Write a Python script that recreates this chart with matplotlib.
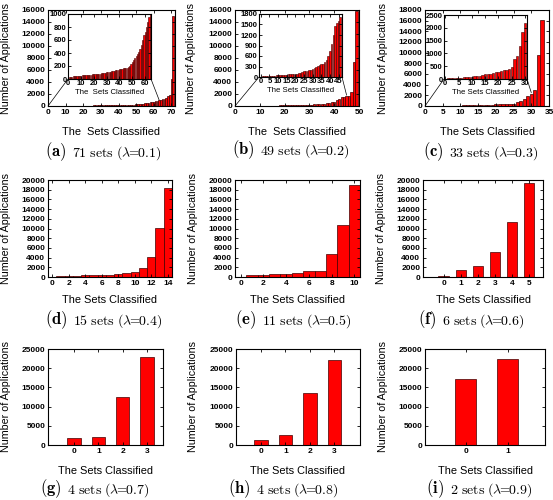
import matplotlib
matplotlib.use('agg')
import matplotlib.pyplot as plt
import numpy as np
from matplotlib.patches import ConnectionPatch
from matplotlib.transforms import blended_transform_factory

# applications per classified set
apps_a = [30, 35, 38, 40, 42, 44, 46, 48, 50, 52,
          54, 56, 58, 60, 62, 64, 66, 68, 70, 72,
          74, 76, 78, 80, 83, 86, 90, 94, 98, 102,
          106, 110, 115, 120, 125, 130, 135, 140, 145, 150,
          155, 160, 165, 170, 172, 175, 180, 200, 230, 260,
          290, 320, 350, 380, 420, 460, 520, 600, 680, 720,
          800, 870, 950, 1050, 1150, 1250, 1400, 1600, 1800, 4500, 15000]
apps_b = [25, 28, 30, 32, 35, 38, 40, 42, 45, 48,
          50, 55, 60, 65, 70, 75, 80, 85, 90, 95,
          100, 110, 120, 150, 160, 170, 180, 200, 210, 230,
          250, 280, 320, 350, 370, 380, 420, 500, 600, 750,
          950, 1200, 1450, 1550, 1600, 1700, 2300, 7300, 15800]
apps_c = [30, 35, 40, 45, 50, 55, 60, 70, 80, 90,
          100, 110, 130, 150, 180, 200, 210, 230, 260, 290,
          320, 340, 360, 400, 450, 800, 900, 1300, 1850, 2200,
          3000, 9500, 16200]
apps_d = [50, 150, 200, 300, 350, 400, 450, 500, 650, 900, 1000, 1800, 4100, 10100, 18400]
apps_e = [100, 400, 500, 600, 700, 800, 1200, 1300, 4800, 10700, 18900]
apps_f = [300, 1400, 2200, 5200, 11300, 19300]
apps_g = [1900, 2200, 12500, 23000]
apps_h = [1400, 2700, 13500, 22100]
apps_i = [17300, 22400]

# zoomed region of the three insets: (last set, max applications)
zoom_a = (63, 1000)
zoom_b = (45, 1800)
zoom_c = (30, 2500)

XLAB_WIDE = 'The  Sets Classified'
XLAB = 'The Sets Classified'

captions = [('(a)', '71 sets', '0.1'), ('(b)', '49 sets', '0.2'), ('(c)', '33 sets', '0.3'),
            ('(d)', '15 sets', '0.4'), ('(e)', '11 sets', '0.5'), ('(f)', '6 sets', '0.6'),
            ('(g)', '4 sets', '0.7'), ('(h)', '4 sets', '0.8'), ('(i)', '2 sets', '0.9')]

plt.rcParams['font.family'] = ['Liberation Sans', 'DejaVu Sans']
plt.rcParams['mathtext.fontset'] = 'cm'

W, H = 553, 500
fig = plt.figure(figsize=(W / 100, H / 100), dpi=100)
RED = '#ff0000'
EDGE = '#400000'


def add_box(l, r, t, b):
    return fig.add_axes([l / W, 1 - b / H, (r - l) / W, (b - t) / H])


def style(ax, size=6):
    ax.tick_params(direction='in', top=True, right=True, length=2.5, width=0.6,
                   labelsize=size, pad=2)
    for lab in ax.get_xticklabels() + ax.get_yticklabels():
        lab.set_fontweight('bold')
    for s in ax.spines.values():
        s.set_linewidth(0.8)


def draw(ax, x, y, w, lw=0.5):
    ax.bar(x, y, width=w, color=RED, edgecolor=EDGE, linewidth=lw)


def labels(ax, ylab_x, xlab_y, xlab=XLAB):
    ax.set_ylabel('Number of Applications', fontsize=7.7)
    ax.set_xlabel(xlab, fontsize=7.9)
    ax.yaxis.set_label_coords(ylab_x / W, 0.5,
                              transform=blended_transform_factory(fig.transFigure, ax.transAxes))
    ax.xaxis.set_label_coords(0.5, 1 - xlab_y / H,
                              transform=blended_transform_factory(ax.transAxes, fig.transFigure))
    ax.xaxis.label.set_va('center')
    ax.yaxis.label.set_va('center')


def inset(ax, box, apps, zoom, xlim, yticks, xticks, xlab):
    ins = add_box(*box)
    n = zoom[0] + 1
    draw(ins, np.arange(1, n + 1), apps[:n], 0.9, lw=0.4)
    ins.set_xlim(*xlim)
    ins.set_ylim(0, zoom[1])
    ins.set_yticks(yticks)
    ins.set_xticks(xticks)
    style(ins, 5.5)
    ins.tick_params(pad=1)
    ins.set_xlabel(xlab, fontsize=5.6, labelpad=1)
    for xyA, xyB in [((0, 0), (0, 0)), ((1, 0), zoom)]:
        con = ConnectionPatch(xyA=xyA, coordsA=ins.transAxes, xyB=xyB, coordsB=ax.transData,
                              color='black', lw=0.5)
        fig.add_artist(con)


def caption(i, x, y):
    tag, sets, lam = captions[i]
    t = fig.text(x / W, 1 - y / H, r'$\mathbf{' + tag + '}$', fontsize=12, va='center', ha='left')
    fig.axes[0].annotate(r'$\mathrm{' + sets.replace(' ', r'\ ') + r'\ (\lambda\!\!=\!\!' + lam + ')}$',
                         xy=(1, 0.45), xycoords=t, xytext=(4, 0), textcoords='offset points',
                         fontsize=10, va='center', ha='left', annotation_clip=False)


# ---- row 1 ----
ax = add_box(48, 175, 10, 106)
draw(ax, np.arange(1, len(apps_a) + 1), apps_a, 0.9)
ax.set_xlim(0, 72)
ax.set_ylim(0, 16000)
ax.set_xticks(range(0, 71, 10))
ax.set_yticks(range(0, 16001, 2000))
style(ax)
labels(ax, 6, 132, XLAB_WIDE)
inset(ax, (68, 151, 14, 79), apps_a, zoom_a, (0, 64.5), range(0, 1001, 200), range(0, 61, 10),
      XLAB_WIDE)

ax = add_box(235, 359, 10, 106)
draw(ax, np.arange(1, len(apps_b) + 1), apps_b, 0.9)
ax.set_xlim(0, 50)
ax.set_ylim(0, 16000)
ax.set_xticks(range(0, 51, 10))
ax.set_yticks(range(0, 16001, 2000))
style(ax)
labels(ax, 191, 132, XLAB_WIDE)
inset(ax, (259, 342, 14, 77), apps_b, zoom_b, (-1, 47), range(0, 1801, 300), range(0, 46, 5), XLAB)

ax = add_box(425, 549, 10, 106)
draw(ax, np.arange(1, len(apps_c) + 1), apps_c, 0.9)
ax.set_xlim(0, 35)
ax.set_ylim(0, 18000)
ax.set_xticks(range(0, 36, 5))
ax.set_yticks(range(0, 18001, 2000))
style(ax)
labels(ax, 383, 132)
inset(ax, (444, 527, 15, 79), apps_c, zoom_c, (-0.4, 30.7), range(0, 2501, 500), range(0, 31, 5),
      XLAB)

# ---- row 2 ----
ax = add_box(48, 172, 180, 277)
draw(ax, np.arange(len(apps_d)), apps_d, 1.0)
ax.set_xlim(-0.5, 14.5)
ax.set_ylim(0, 20000)
ax.set_xticks(range(0, 15, 2))
ax.set_yticks(range(0, 20001, 2000))
style(ax)
labels(ax, 6, 300)

ax = add_box(235, 360, 180, 277)
draw(ax, np.arange(len(apps_e)), apps_e, 1.0)
ax.set_xlim(-0.5, 10.5)
ax.set_ylim(0, 20000)
ax.set_xticks(range(0, 11, 2))
ax.set_yticks(range(0, 20001, 2000))
style(ax)
labels(ax, 193, 300)

ax = add_box(423, 543, 180, 277)
draw(ax, np.arange(len(apps_f)), apps_f, 0.6)
ax.set_xlim(-1.2, 5.8)
ax.set_ylim(0, 20000)
ax.set_xticks(range(6))
ax.set_yticks(range(0, 20001, 2000))
style(ax)
labels(ax, 381, 300)

# ---- row 3 ----
ax = add_box(48, 163, 349, 445)
draw(ax, np.arange(len(apps_g)), apps_g, 0.55)
ax.set_xlim(-1.07, 3.66)
ax.set_ylim(0, 25000)
ax.set_xticks(range(4))
ax.set_yticks(range(0, 25001, 5000))
style(ax)
labels(ax, 6, 471)

ax = add_box(236, 360, 349, 445)
draw(ax, np.arange(len(apps_h)), apps_h, 0.55)
ax.set_xlim(-1.02, 4.05)
ax.set_ylim(0, 25000)
ax.set_xticks(range(4))
ax.set_yticks(range(0, 25001, 5000))
style(ax)
labels(ax, 193, 471)

ax = add_box(425, 545, 349, 445)
draw(ax, np.arange(len(apps_i)), apps_i, 0.5)
ax.set_xlim(-0.98, 1.9)
ax.set_ylim(0, 25000)
ax.set_xticks(range(2))
ax.set_yticks(range(0, 25001, 5000))
style(ax)
labels(ax, 383, 471)

cap_pos = [(45, 152), (232, 150), (423, 152),
           (45, 320), (235, 320), (418, 320),
           (40, 489), (228, 489), (426, 489)]
for i, (x, y) in enumerate(cap_pos):
    caption(i, x, y)

fig.savefig('out.png', dpi=100, facecolor='white')
